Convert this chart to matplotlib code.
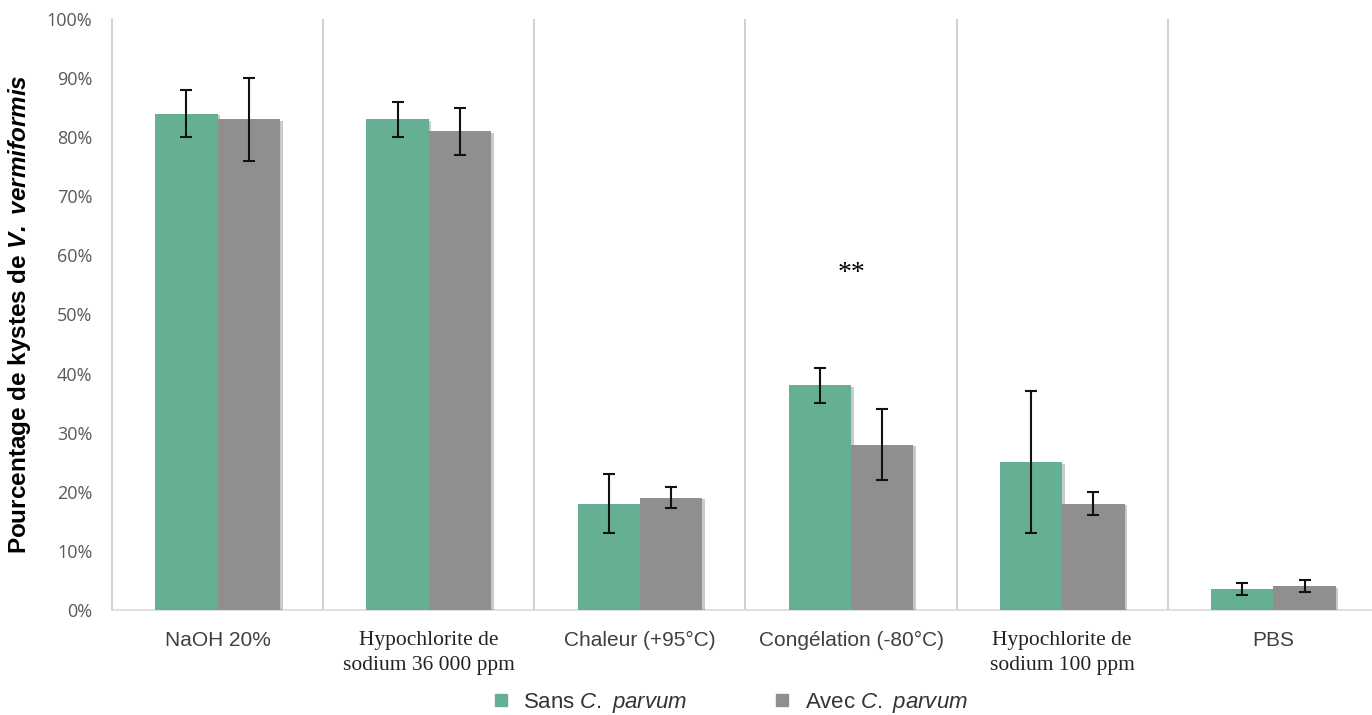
import numpy as np
import matplotlib
matplotlib.use("Agg")
import matplotlib.pyplot as plt
import matplotlib.patheffects as pe
from matplotlib.lines import Line2D

# Données
categories = ["NaOH 20%", "Hypochlorite de\nsodium 36 000 ppm", "Chaleur (+95°C)",
              "Congélation (-80°C)", "Hypochlorite de\nsodium 100 ppm", "PBS"]
sans_vals = [84, 83, 18, 38, 25, 3.6]
sans_err = [4, 3, 5, 3, 12, 1]
avec_vals = [83, 81, 19, 28, 18, 4]
avec_err = [7, 4, 1.8, 6, 2, 1]
serif_labels = [1, 4]

plt.rcParams['mathtext.fontset'] = 'custom'
plt.rcParams['mathtext.it'] = 'Liberation Sans:italic'
plt.rcParams['mathtext.bf'] = 'Liberation Sans:bold:italic'
plt.rcParams['mathtext.rm'] = 'Liberation Sans'

green = '#65AF93'
grey = '#8F8F8F'

fig = plt.figure(figsize=(13.72, 7.15), dpi=100)
ax = fig.add_axes([0.0816, 0.1469, 0.9235, 0.8265])

x = np.arange(len(categories))
w = 0.295
shadow = [pe.SimplePatchShadow(offset=(2, -1), alpha=0.25), pe.Normal()]
ax.bar(x - w / 2, sans_vals, w, color=green, path_effects=shadow, zorder=3)
ax.bar(x + w / 2, avec_vals, w, color=grey, path_effects=shadow, zorder=3)
ax.errorbar(x - w / 2, sans_vals, yerr=sans_err, fmt='none', ecolor='#111111',
            elinewidth=1.5, capsize=4, capthick=1.5, zorder=4)
ax.errorbar(x + w / 2, avec_vals, yerr=avec_err, fmt='none', ecolor='#111111',
            elinewidth=1.5, capsize=4, capthick=1.5, zorder=4)

# séparateurs verticaux
for b in np.arange(0.5, len(categories) - 0.5, 1):
    ax.axvline(b, color='#c8c8c8', lw=1.2, zorder=1)

ax.set_xlim(-0.5, len(categories) - 0.5)
ax.set_ylim(0, 100)
ax.set_yticks(np.arange(0, 101, 10))
ax.set_yticklabels([f"{v}%" for v in range(0, 101, 10)], fontsize=13,
                   color='#595959', family='Open Sans')
ax.tick_params(axis='both', length=0)
ax.tick_params(axis='y', pad=14)

ax.set_xticks(x)
ax.set_xticklabels(categories)
for i, lab in enumerate(ax.get_xticklabels()):
    if i in serif_labels:
        lab.set_family('Liberation Serif')
        lab.set_fontsize(15.5)
        lab.set_color('#222222')
        lab.set_linespacing(1.45)
    else:
        lab.set_family('Liberation Sans')
        lab.set_fontsize(15)
        lab.set_color('#404040')
ax.tick_params(axis='x', pad=15)

for s in ['top', 'right']:
    ax.spines[s].set_visible(False)
ax.spines['left'].set_color('#c8c8c8')
ax.spines['bottom'].set_color('#d9d9d9')
ax.spines['left'].set_linewidth(1.2)
ax.spines['bottom'].set_linewidth(1.2)

ax.set_ylabel(r"Pourcentage de kystes de $\mathbf{V.\ vermiformis}$",
              fontsize=17.5, fontweight='bold', family='Liberation Sans')
ax.yaxis.set_label_coords(-0.0623, 0.5)

ax.text(3, 57, "**", ha='center', va='center', fontsize=20, family='Liberation Serif')

handles = [Line2D([], [], marker='s', ls='none', color=green, markersize=8),
           Line2D([], [], marker='s', ls='none', color=grey, markersize=8)]
fig.legend(handles, [r"Sans $\mathit{C.\ parvum}$", r"Avec $\mathit{C.\ parvum}$"],
           loc='center', bbox_to_anchor=(0.531, 0.017), ncol=2, frameon=False,
           prop={'family': 'Liberation Sans', 'size': 16}, columnspacing=3.8,
           handlelength=1.0, handletextpad=0.5, labelcolor='#333333')

fig.savefig("out.png", dpi=100)
